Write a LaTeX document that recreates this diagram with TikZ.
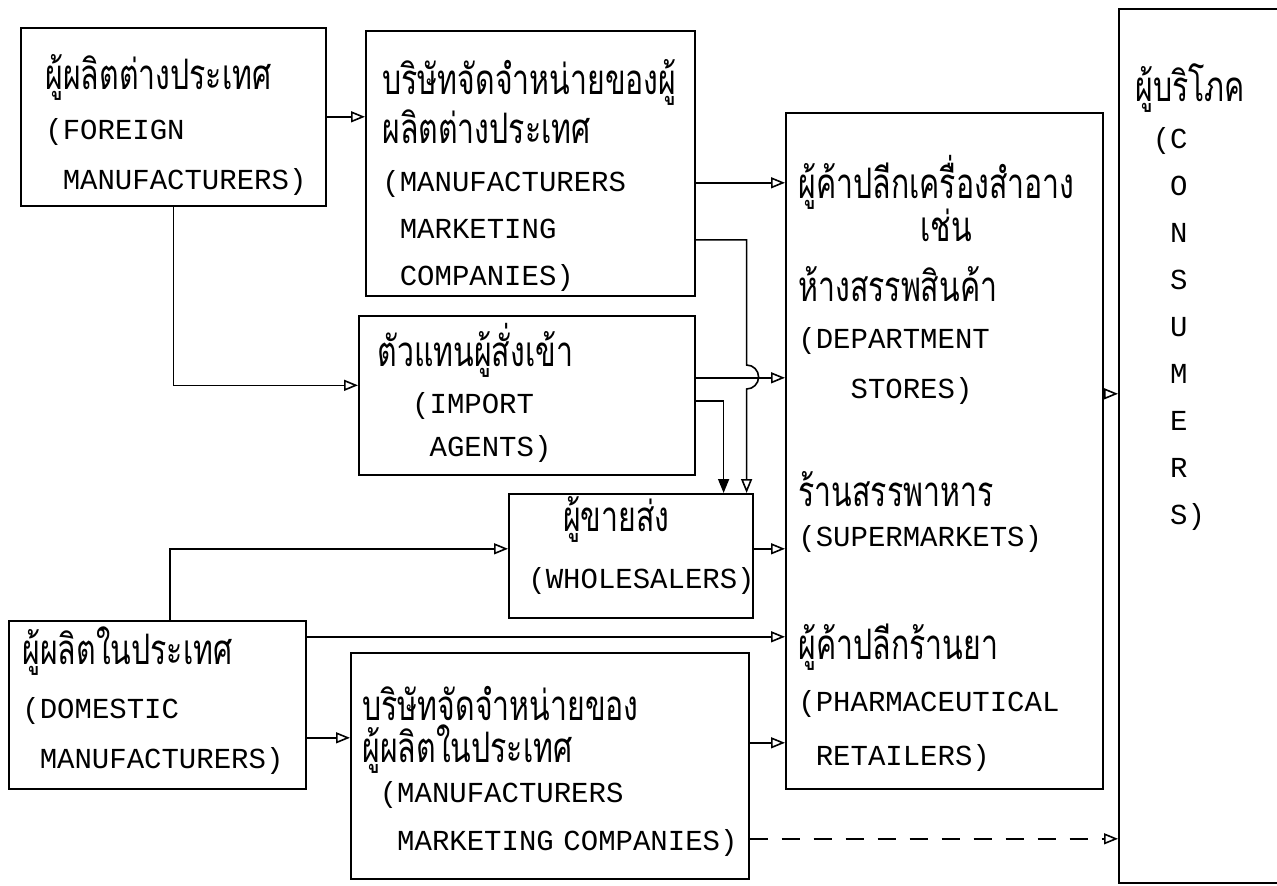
\documentclass[tikz,border=0pt]{standalone}
\usepackage{fontspec}
\setmainfont{Liberation Mono}
\newfontfamily\thaifont[Script=Thai]{Loma}
\usetikzlibrary{arrows.meta,positioning}
\newcommand{\thl}[1]{\scalebox{0.72}[1]{\thaifont\fontsize{21}{24}\selectfont #1}}
\newlength\chw
\setlength\chw{8.7pt}
\lineskiplimit=-40pt

\begin{document}
\begin{tikzpicture}[
  x=0.5pt, y=-0.5pt,
  box/.style={draw, line width=0.8pt, anchor=north west, inner sep=0pt},
  txt/.style={anchor=base west, inner sep=0pt, text width=#1, align=left,
    font=\fontsize{14.5}{24}\selectfont},
  txt/.default=220pt,
  arrow/.style={-{Triangle[open,length=7pt,width=5.5pt]}, line width=0.8pt},
  farrow/.style={-{Triangle[length=7pt,width=5.5pt]}, line width=0.8pt}
]
\useasboundingbox (0,0) rectangle (1277,885);

% boxes
\node[box, minimum width=152.5pt, minimum height=89pt] (fm) at (20,27) {};
\node[box, minimum width=164.5pt, minimum height=132.5pt] (mmcf) at (365,30) {};
\node[box, minimum width=168pt, minimum height=79.5pt] (ia) at (358,315) {};
\node[box, minimum width=122pt, minimum height=62pt] (ws) at (508,493) {};
\node[box, minimum width=158.5pt, minimum height=338pt] (rt) at (785,112) {};
\node[box, minimum width=100pt, minimum height=437pt] (cs) at (1118,8) {};
\node[box, minimum width=148.5pt, minimum height=84pt] (dm) at (8,620) {};
\node[box, minimum width=199pt, minimum height=113pt] (mmcd) at (350,652) {};

% texts
\node[txt] (fmtxt) at ([shift={(25,62)}]fm.north west)
  {\thl{ผู้ผลิตต่างประเทศ}\\[1pt](FOREIGN\\[1pt]\hspace*{\chw}MANUFACTURERS)};
\node[txt] (mmcftxt) at ([shift={(17,64)}]mmcf.north west)
  {\thl{บริษัทจัดจำหน่ายของผู้}\\[0.5pt]\thl{ผลิตต่างประเทศ}\\(MANUFACTURERS\\[-0.5pt]
   \hspace*{\chw}MARKETING\\[-0.5pt]\hspace*{\chw}COMPANIES)};
\node[txt] (iatxt) at ([shift={(19,51)}]ia.north west)
  {\thl{ตัวแทนผู้สั่งเข้า}\\[-0.5pt]\hspace*{2\chw}(IMPORT\\[-2.5pt]\hspace*{3\chw}AGENTS)};
\node[txt] (wstxt) at ([shift={(20,38)}]ws.north west)
  {\hspace*{2\chw}\thl{ผู้ขายส่ง}\\[4.5pt](WHOLESALERS)};
\node[txt] (rttxt) at ([shift={(13,86)}]rt.north west)
  {\thl{ผู้ค้าปลีกเครื่องสำอาง}\\[-2.5pt]
   \hspace*{7\chw}\thl{เช่น}\\[6pt]
   \thl{ห้างสรรพสินค้า}\\[-0.5pt]
   (DEPARTMENT\\[1pt]
   \hspace*{3\chw}STORES)\\[30pt]
   \thl{ร้านสรรพาหาร}\\[-4pt]
   (SUPERMARKETS)\\[32.5pt]
   \thl{ผู้ค้าปลีกร้านยา}\\[2pt]
   (PHARMACEUTICAL\\[3pt]
   \hspace*{\chw}RETAILERS)};
\node[txt] (cstxt) at ([shift={(17,93)}]cs.north west)
  {\thl{ผู้บริโภค}\\[-0.5pt]\hspace*{\chw}(C\\[-0.5pt]\hspace*{2\chw}O\\[-0.5pt]
   \hspace*{2\chw}N\\[-0.5pt]\hspace*{2\chw}S\\[-0.5pt]\hspace*{2\chw}U\\[-0.5pt]
   \hspace*{2\chw}M\\[-0.5pt]\hspace*{2\chw}E\\[-0.5pt]\hspace*{2\chw}R\\[-0.5pt]
   \hspace*{2\chw}S)};
\node[txt] (dmtxt) at ([shift={(14,44)}]dm.north west)
  {\thl{ผู้ผลิตในประเทศ}\\[3pt](DOMESTIC\\[1pt]\hspace*{\chw}MANUFACTURERS)};
\node[txt] (mmcdtxt) at ([shift={(12,68)}]mmcd.north west)
  {\thl{บริษัทจัดจำหน่ายของ}\\[-3pt]\thl{ผู้ผลิตในประเทศ}\\[-4pt]
   \hspace*{\chw}(MANUFACTURERS\\\hspace*{2\chw}MARKETING COMPANIES)};

% connectors
\coordinate (ia-in) at ([shift={(0,-10)}]ia.west);
\coordinate (mf-out) at ([shift={(0,19.5)}]mmcf.east);
\coordinate (mf-down) at ([shift={(0,76.5)}]mmcf.east);
\coordinate (hop) at ([shift={(-7,-128)}]ws.north east);
\coordinate (ia-out) at ([shift={(0,-17.5)}]ia.east);
\coordinate (ia-down) at ([shift={(0,5.5)}]ia.east);
\coordinate (ws-out) at ([shift={(0,-7)}]ws.east);
\coordinate (ws-in) at ([shift={(0,-7)}]ws.west);
\coordinate (dm-long) at ([shift={(0,-68)}]dm.east);
\coordinate (dm-out) at ([shift={(0,33)}]dm.east);
\coordinate (md-out) at ([shift={(0,-23)}]mmcd.east);
\coordinate (md-dash) at ([shift={(0,73)}]mmcd.east);
\coordinate (rt-out) at ([shift={(0,-57)}]rt.east);

\draw[arrow] (fm.east) -- (fm.east -| mmcf.west);
\draw[arrow] (fm.south) |- (ia-in);
\draw[arrow] (mf-out) -- (mf-out -| rt.west);
\draw[arrow] (mf-down) -| (hop) arc[start angle=90, end angle=-90, radius=6pt] -- (hop |- ws.north);
\draw[arrow] (ia-out) -- (ia-out -| rt.west);
\draw[farrow] (ia-down) -| ([shift={(-30,0)}]ws.north east);
\draw[arrow] (ws-out) -- (ws-out -| rt.west);
\draw[arrow] ([shift={(12.5,0)}]dm.north) |- (ws-in);
\draw[arrow] (dm-long) -- (dm-long -| rt.west);
\draw[arrow] (dm-out) -- (dm-out -| mmcd.west);
\draw[arrow] (md-out) -- (md-out -| rt.west);
\draw[arrow, dash pattern=on 9pt off 7pt] (md-dash) -- (md-dash -| cs.west);
\draw[arrow] (rt-out) -- (rt-out -| cs.west);
\end{tikzpicture}
\end{document}
